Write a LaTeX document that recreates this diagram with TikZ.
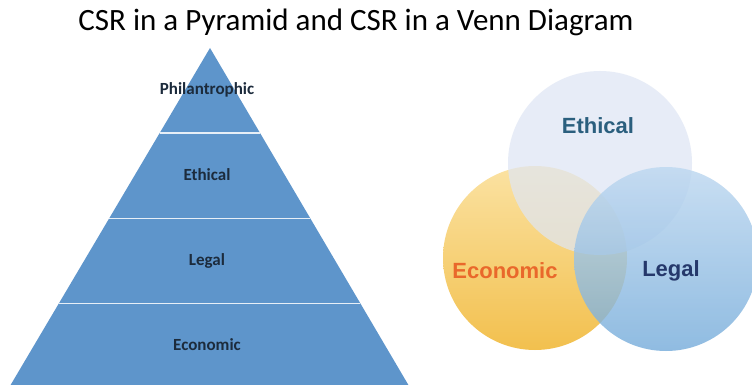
\documentclass[tikz,border=0pt]{standalone}
\usepackage{fontspec}
\setmainfont{Carlito}
\newfontfamily\vennfont{Liberation Sans}
\usetikzlibrary{calc,positioning}

\definecolor{pyrblue}{HTML}{5E95CB}
\definecolor{pyrtext}{HTML}{1C2B3C}
\definecolor{ethtext}{HTML}{2B5F7E}
\definecolor{ecotext}{HTML}{E9682B}
\definecolor{legtext}{HTML}{25386B}
\definecolor{ecotop}{HTML}{FBE2A2}
\definecolor{ecobot}{HTML}{F2C04E}
\definecolor{ethfill}{HTML}{DFE6F4}
\definecolor{legtop}{HTML}{BCD7F0}
\definecolor{legbot}{HTML}{74ABDA}

\tikzstyle{divider} = [draw=white!85!pyrblue, line width=1.4pt]
\tikzstyle{layer} = [font=\bfseries\fontsize{17}{17}\selectfont, text=pyrtext]
\tikzstyle{venn} = [circle, minimum size=184pt, inner sep=0pt]
\tikzstyle{vennlabel} = [font=\vennfont\bfseries\fontsize{22}{22}\selectfont]

\begin{document}
\begin{tikzpicture}[x=1pt,y=-1pt]

	\useasboundingbox[fill=white] (0,0) rectangle (752,385);

	\node (title) at (356,22) {\fontsize{31}{31}\selectfont CSR in a Pyramid and CSR in a Venn Diagram};

	% pyramid
	\coordinate (apex) at (210,48);
	\coordinate (bl) at (10,386);
	\coordinate (br) at (409,386);

	\fill[pyrblue] (apex) -- (br) -- (bl) -- cycle;

	\draw[divider] ($(apex)!0.252!(bl)$) -- ($(apex)!0.252!(br)$);
	\draw[divider] ($(apex)!0.504!(bl)$) -- ($(apex)!0.504!(br)$);
	\draw[divider] ($(apex)!0.756!(bl)$) -- ($(apex)!0.756!(br)$);

	\node (philan) [layer] at (207,90) {Philantrophic};
	\node (ethical) [layer] at (207,175) {Ethical};
	\node (legal) [layer] at (207,261) {Legal};
	\node (economic) [layer] at (207,345) {Economic};

	% venn diagram
	\node (ecoCircle) [venn, top color=ecotop, bottom color=ecobot] at (535,258) {};
	\node (ethCircle) [venn, fill=ethfill, fill opacity=0.72] at (600,163) {};
	\node (legCircle) [venn, top color=legtop, bottom color=legbot, fill opacity=0.8] at (666,259) {};

	\node (ethLabel) [vennlabel, text=ethtext] at (598,126) {Ethical};
	\node (ecoLabel) [vennlabel, text=ecotext] at (505,271) {Economic};
	\node (legLabel) [vennlabel, text=legtext] at (671,271) {Legal};

\end{tikzpicture}
\end{document}
